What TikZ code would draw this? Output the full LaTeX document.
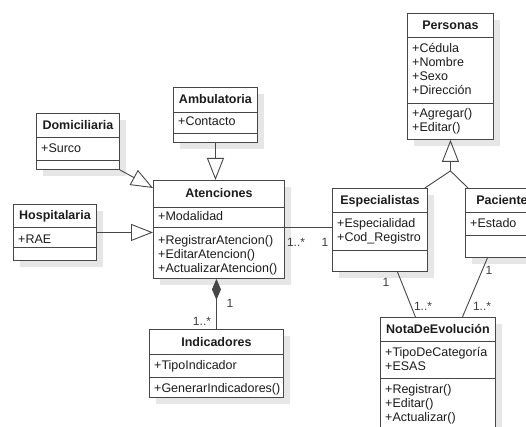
\documentclass[tikz,border=0pt]{standalone}
\usepackage{fontspec}
\setmainfont{Liberation Sans}
\usetikzlibrary{arrows.meta,shadows}
\definecolor{umlline}{HTML}{474747}
\definecolor{umltext}{HTML}{1C1C1C}
\definecolor{umlshade}{HTML}{E6E6E6}

% class frame: name, x, y, width, height, header height, title
\newcommand\umlclass[7]{%
  \node[classbox, minimum width=#4pt, minimum height=#5pt] (#1) at (#2,#3) {};
  \draw[sepline] ([yshift=-#6pt]#1.north west) -- ([yshift=-#6pt]#1.north east);
  \node[ctitle] (#1-title) at ([yshift=-#6pt/2-4.5pt]#1.north) {#7};
}
% second separator: name, offset from top
\newcommand\umlsep[2]{%
  \draw[sepline] ([yshift=-#2pt]#1.north west) -- ([yshift=-#2pt]#1.north east);
}
% compartment text: name, id, offset of first baseline from top, lines
\newcommand\umlmembers[4]{%
  \node[members] (#1-#2) at ([xshift=5pt,yshift=-#3pt]#1.north west) {#4};
}

\begin{document}
\begin{tikzpicture}[x=1pt,y=-1pt,
  font=\fontsize{12.5}{14}\selectfont, text=umltext,
  classbox/.style={draw=umlline, line width=0.9pt, fill=white, anchor=north west,
    inner sep=0pt,
    drop shadow={shadow xshift=7pt, shadow yshift=-7pt, fill=umlshade, opacity=1}},
  sepline/.style={draw=umlline, line width=0.9pt},
  ctitle/.style={font=\bfseries\fontsize{12.5}{14}\selectfont, anchor=base, inner sep=0pt},
  members/.style={anchor=base west, inner sep=0pt, text width=130pt, align=left},
  conn/.style={draw=umlline, line width=0.9pt},
  gen/.style={conn, -{Triangle[open, length=22pt, width=17pt, line width=0.9pt]}},
  comp/.style={conn, {Diamond[length=21pt, width=9pt]}-},
  mult/.style={inner sep=0pt, text=umltext!85, font=\fontsize{12}{14}\selectfont},
]
\useasboundingbox (0,0) rectangle (526,427);
\clip (0,0) rectangle (526,427);
\fill[white] (0,0) rectangle (526,427);

% ---- classes ----
\umlclass{per}{407}{13}{86}{126}{24}{Personas}
\umlsep{per}{90}
\umlmembers{per}{attr}{40}{+Cédula\\+Nombre\\+Sexo\\+Dirección}
\umlmembers{per}{ops}{105}{+Agregar()\\+Editar()}

\umlclass{amb}{173}{87}{84}{55}{25}{Ambulatoria}
\umlsep{amb}{46}
\umlmembers{amb}{attr}{39}{+Contacto}

\umlclass{dom}{36}{113}{83}{56}{24}{Domiciliaria}
\umlsep{dom}{47}
\umlmembers{dom}{attr}{40}{+Surco}

\umlclass{hosp}{13}{204}{83}{56}{23}{Hospitalaria}
\umlsep{hosp}{43}
\umlmembers{hosp}{attr}{39}{+RAE}

\umlclass{aten}{153}{180}{131}{98}{27}{Atenciones}
\umlsep{aten}{47}
\umlmembers{aten}{attr}{41}{+Modalidad}
\umlmembers{aten}{ops}{64}{+RegistrarAtencion()\\+EditarAtencion()\\+ActualizarAtencion()}

\umlclass{esp}{332}{188}{95}{83}{24}{Especialistas}
\umlsep{esp}{62}
\umlmembers{esp}{attr}{39}{+Especialidad\\+Cod\_Registro}

\umlclass{pac}{465}{188}{80}{69}{24}{Pacientes}
\umlsep{pac}{47}
\umlmembers{pac}{attr}{39}{+Estado}

\umlclass{nota}{380}{317}{115}{130}{24}{NotaDeEvolución}
\umlsep{nota}{61}
\umlmembers{nota}{attr}{39}{+TipoDeCategoría\\+ESAS}
\umlmembers{nota}{ops}{76}{+Registrar()\\+Editar()\\+Actualizar()}

\umlclass{ind}{149}{329}{134}{68}{25}{Indicadores}
\umlsep{ind}{48}
\umlmembers{ind}{attr}{40}{+TipoIndicador}
\umlmembers{ind}{ops}{63}{+GenerarIndicadores()}

% ---- generalisations ----
\draw[gen] (amb.south) -- (amb.south |- aten.north);
\draw[gen] (dom.south east) -- ([yshift=-8pt]aten.north west);
\draw[gen] (hosp.east) -- (hosp.east -| aten.west);
\coordinate (join) at ([yshift=-31pt]per.south);
\draw[conn] ([xshift=-3pt]esp.north east) -- (join);
\draw[conn] ([xshift=3pt]pac.north west) -- (join);
\draw[gen] (join) -- (join |- per.south);

% ---- associations ----
\coordinate (asc) at ([yshift=-47pt]aten.north east);
\draw[conn] (asc) -- (asc -| esp.west);
\node[mult] (m1) at (296,242) {1..*};
\node[mult] (m2) at (325,242) {1};

\draw[comp] (ind.north |- aten.south) -- (ind.north);
\node[mult] (m3) at (230,303) {1};
\node[mult] (m4) at (202,321) {1..*};

\draw[conn] ([xshift=17.5pt]esp.south) -- ([xshift=-22.5pt]nota.north);
\node[mult] (m5) at (386,282) {1};
\node[mult] (m6) at (423,306) {1..*};

\draw[conn] ([xshift=-18pt]pac.south) -- ([xshift=24.5pt]nota.north);
\node[mult] (m7) at (489,270) {1};
\node[mult] (m8) at (482,306) {1..*};
\end{tikzpicture}
\end{document}
